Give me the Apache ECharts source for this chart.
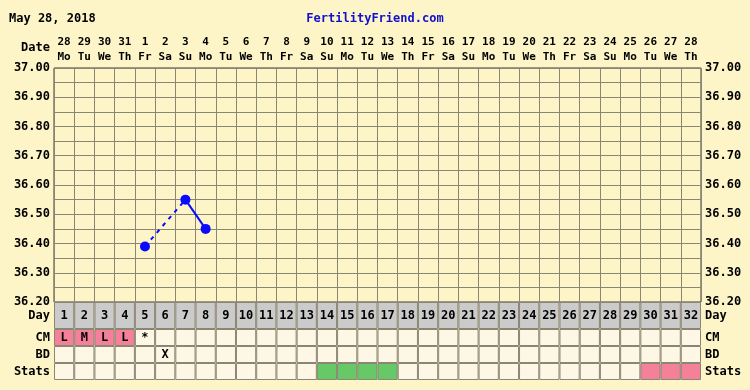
<!DOCTYPE html>
<html><head><meta charset="utf-8">
<script src="https://cdn.jsdelivr.net/npm/echarts@6/dist/echarts.min.js"></script>
<style>html,body{margin:0;padding:0;background:#fdf5c8;}#c{width:750px;height:390px;}</style>
</head><body><div id="c"></div>
<script>
const chartDate = 'May 28, 2018';
const siteName = 'FertilityFriend.com';
const dateNums = ['28','29','30','31','1','2','3','4','5','6','7','8','9','10','11','12','13','14','15','16','17','18','19','20','21','22','23','24','25','26','27','28'];
const weekdays = ['Mo','Tu','We','Th','Fr','Sa','Su','Mo','Tu','We','Th','Fr','Sa','Su','Mo','Tu','We','Th','Fr','Sa','Su','Mo','Tu','We','Th','Fr','Sa','Su','Mo','Tu','We','Th'];
const cycleDays = ['1','2','3','4','5','6','7','8','9','10','11','12','13','14','15','16','17','18','19','20','21','22','23','24','25','26','27','28','29','30','31','32'];
const temps = [null,null,null,null,36.39,null,36.55,36.45,null,null,null,null,null,null,null,null,null,null,null,null,null,null,null,null,null,null,null,null,null,null,null,null];
const tempMin = 36.2, tempMax = 37.0, tempStep = 0.05;
const rowNames = ['Day','CM','BD','Stats'];
const cmMarks = ['L','M','L','L','*','','','','','','','','','','','','','','','','','','','','','','','','','','',''];
const bdMarks = ['','','','','','X','','','','','','','','','','','','','','','','','','','','','','','','','',''];
const statsCodes = ['','','','','','','','','','','','','','F','F','F','F','','','','','','','','','','','','','P','P','P'];

const FONT = 'DejaVu Sans Mono';
const BG = '#fdf5c8', CELL = '#fef7e6', GRIDC = '#8a8674', DAYC = '#cbcbcb', PINK = '#f5809a', GREEN = '#66c866', BLUE = '#0a0aff';

// dashed data: bridge gaps in temps
const dashed = temps.map(() => null);
{
  let last = -1;
  temps.forEach((v, i) => {
    if (v != null) {
      if (last >= 0 && i - last > 1) { dashed[last] = temps[last]; dashed[i] = v; }
      last = i;
    }
  });
}

const chart = echarts.init(document.getElementById('c'), null, {renderer: 'canvas'});
const lbl = {fontFamily: FONT, fontWeight: 'bold', fontSize: 12, color: '#000'};
const hdr = {fontFamily: FONT, fontWeight: 'bold', fontSize: 11, color: '#000'};

const rows = [
  {name: rowNames[0], top: 302, h: 27, text: cycleDays, color: () => DAYC},
  {name: rowNames[1], top: 329, h: 17, text: cmMarks, color: (i) => /[LMH]/.test(cmMarks[i]) ? PINK : CELL},
  {name: rowNames[2], top: 346, h: 17, text: bdMarks, color: () => CELL},
  {name: rowNames[3], top: 363, h: 17, text: statsCodes.map(() => ''), color: (i) => statsCodes[i] === 'F' ? GREEN : (statsCodes[i] === 'P' ? PINK : CELL)}
];

const grids = [{left: 54, right: 49, top: 68, height: 234, show: true, backgroundColor: BG, borderColor: '#3a3a3a', borderWidth: 1}];
const xAxes = [{
  gridIndex: 0, type: 'category', data: dateNums, position: 'top', boundaryGap: true,
  axisTick: {show: false}, axisLine: {show: false},
  splitLine: {show: true, interval: 0, lineStyle: {color: GRIDC, width: 1}},
  axisLabel: Object.assign({interval: 0, margin: 3, lineHeight: 15, formatter: (v, i) => v + '\n' + weekdays[i]}, hdr)
}];
const tempLabel = (v) => (Math.round(v * 100) % 10 === 0) ? v.toFixed(2) : '';
const yAxes = [
  {gridIndex: 0, type: 'value', min: tempMin, max: tempMax, interval: tempStep, position: 'left',
   axisLine: {show: false}, axisTick: {show: false},
   splitLine: {show: true, lineStyle: {color: GRIDC, width: 1}},
   axisLabel: Object.assign({margin: 4, showMinLabel: true, showMaxLabel: true, formatter: tempLabel}, lbl)},
  {gridIndex: 0, type: 'value', min: tempMin, max: tempMax, interval: tempStep, position: 'right',
   axisLine: {show: false}, axisTick: {show: false}, splitLine: {show: false},
   axisLabel: Object.assign({margin: 4, showMinLabel: true, showMaxLabel: true, formatter: tempLabel}, lbl)}
];
const series = [
  {type: 'line', xAxisIndex: 0, yAxisIndex: 0, data: dashed, connectNulls: true, showSymbol: false, symbol: 'none',
   lineStyle: {color: BLUE, width: 2, type: [4, 5]}, z: 3, silent: true},
  {type: 'line', xAxisIndex: 0, yAxisIndex: 0, data: temps, connectNulls: false, symbol: 'circle', symbolSize: 10, showSymbol: true,
   lineStyle: {color: BLUE, width: 2}, itemStyle: {color: BLUE}, z: 4, silent: true}
];

rows.forEach((r, k) => {
  const gi = k + 1;
  grids.push({left: 54, right: 49, top: r.top, height: r.h, show: false});
  xAxes.push({gridIndex: gi, type: 'category', data: cycleDays, boundaryGap: true, show: false});
  const yv = yAxes.length;
  yAxes.push({gridIndex: gi, type: 'value', min: 0, max: 1, show: false});
  yAxes.push({gridIndex: gi, type: 'category', data: [r.name], position: 'left', axisLine: {show: false}, axisTick: {show: false},
    splitLine: {show: false}, axisLabel: Object.assign({margin: 4}, lbl)});
  yAxes.push({gridIndex: gi, type: 'category', data: [r.name], position: 'right', axisLine: {show: false}, axisTick: {show: false},
    splitLine: {show: false}, axisLabel: Object.assign({margin: 4}, lbl)});
  series.push({
    type: 'bar', xAxisIndex: gi, yAxisIndex: yv, barCategoryGap: '0%', barGap: '0%', silent: true,
    data: cycleDays.map((d, i) => ({value: 1, itemStyle: {color: r.color(i)}})),
    itemStyle: {borderColor: GRIDC, borderWidth: 1},
    label: Object.assign({show: true, position: 'inside', formatter: (p) => r.text[p.dataIndex]}, lbl)
  });
});

chart.setOption({
  animation: false,
  backgroundColor: BG,
  title: [
    {text: chartDate, left: 4, top: 8, textStyle: {fontFamily: FONT, fontWeight: 'bold', fontSize: 12, color: '#000'}},
    {text: siteName, left: 'center', top: 8, textStyle: {fontFamily: FONT, fontWeight: 'bold', fontSize: 12, color: '#1010d0'}}
  ],
  graphic: [
    {type: 'text', right: 700, top: 42, style: {text: 'Date', fontFamily: FONT, fontWeight: 'bold', fontSize: 12, fill: '#000', align: 'right'}}
  ],
  grid: grids, xAxis: xAxes, yAxis: yAxes, series: series
});
</script></body></html>
